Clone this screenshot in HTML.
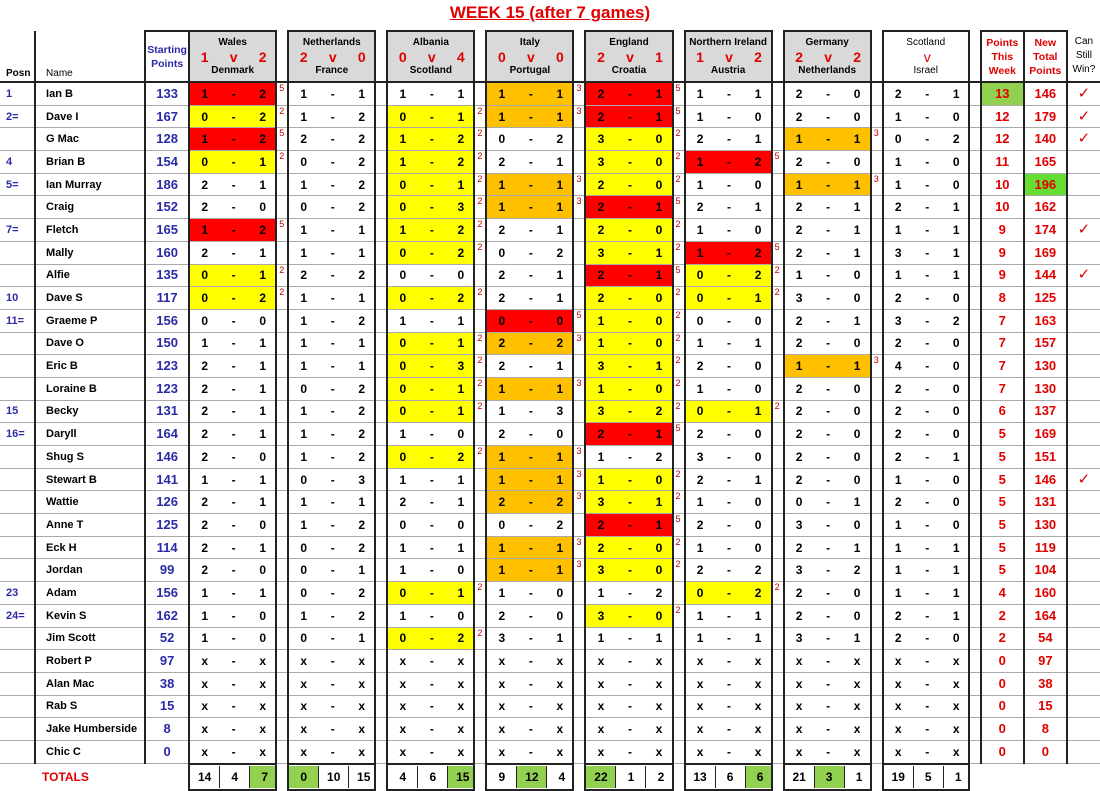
<!DOCTYPE html>
<html><head><meta charset="utf-8"><style>
body{margin:0;background:#fff;width:1100px;height:790px;overflow:hidden;font-family:"Liberation Sans",sans-serif}
h1{position:absolute;left:0;width:1100px;top:3px;margin:0;text-align:center;font-size:17px;color:#e00000;text-decoration:underline;font-weight:bold}
table{position:absolute;left:0;top:30px;border-collapse:collapse;table-layout:fixed;width:1100px}
td{padding:0;height:21.7px;line-height:14px;border-bottom:1px solid #aaa;text-align:center;font-weight:bold;font-size:12px;white-space:nowrap;overflow:hidden}
tr.h td{height:49px;border-bottom:2px solid #222;font-size:10.5px;vertical-align:middle}
.p{color:#2a2aa8;text-align:left;padding-left:6px;font-size:11px}
.n{text-align:left;padding-left:10px;font-size:11px;border-left:2px solid #222;border-right:2px solid #222}
.s{color:#2a2aa8;font-size:13px;border-right:2px solid #222}
.m{border-left:2px solid #222;border-right:2px solid #222}
.m i{display:inline-block;width:29px;font-style:normal}
.g{color:#c00000;font-size:9px;font-weight:normal;vertical-align:top;text-align:left;padding-left:2px;line-height:11px}
.R{background:#ff0000}.Y{background:#ffff00}.O{background:#ffc000}
.t{color:#e00000;font-size:13px;border-left:2px solid #222;border-right:2px solid #222}
.w{color:#e00000;font-size:15px;font-weight:normal}
tr.h .m{background:#d9d9d9;border-top:2px solid #222;line-height:14px;font-size:10px}
tr.h .m span{color:#e00000;font-size:14px;display:block}
tr.h .t{border-top:2px solid #222;font-size:10.5px;line-height:14px}
.G1{background:#92d050}.G2{background:#66dd33}
tr.f td{border-bottom:none;height:24px}
tr.f .m{border:2px solid #222}
tr.f .m i{border-right:1px solid #222;height:22px;line-height:22px}
tr.f .m i:last-child{border-right:none}
</style></head><body>
<h1>WEEK 15 (after 7 games)</h1>
<table>
<colgroup><col style="width:35px"><col style="width:110px"><col style="width:44px">
<col style="width:87px"><col style="width:12px"><col style="width:87px"><col style="width:12px"><col style="width:87px"><col style="width:12px"><col style="width:87px"><col style="width:12px"><col style="width:87px"><col style="width:12px"><col style="width:87px"><col style="width:12px"><col style="width:87px"><col style="width:12px"><col style="width:86px"><col style="width:12px">
<col style="width:43px"><col style="width:43px"><col style="width:33px"></colgroup>
<tr class="h"><td class="p" style="vertical-align:bottom;color:#000;font-size:10px">Posn</td><td class="n" style="vertical-align:bottom;font-size:10px;font-weight:normal;border-right:none">Name</td><td class="s" style="font-size:10.5px;border-left:2px solid #222;border-top:2px solid #222">Starting<br>Points</td>
<td class="m">Wales<span><i>1</i><i>v</i><i>2</i></span>Denmark</td><td class="g"></td>
<td class="m">Netherlands<span><i>2</i><i>v</i><i>0</i></span>France</td><td class="g"></td>
<td class="m">Albania<span><i>0</i><i>v</i><i>4</i></span>Scotland</td><td class="g"></td>
<td class="m">Italy<span><i>0</i><i>v</i><i>0</i></span>Portugal</td><td class="g"></td>
<td class="m">England<span><i>2</i><i>v</i><i>1</i></span>Croatia</td><td class="g"></td>
<td class="m">Northern Ireland<span><i>1</i><i>v</i><i>2</i></span>Austria</td><td class="g"></td>
<td class="m">Germany<span><i>2</i><i>v</i><i>2</i></span>Netherlands</td><td class="g"></td>
<td class="m" style="background:#fff;font-weight:normal">Scotland<span><i></i><i>v</i><i></i></span>Israel</td><td class="g"></td>
<td class="t">Points<br>This<br>Week</td><td class="t">New<br>Total<br>Points</td><td style="font-weight:normal;font-size:10px;line-height:14px">Can<br>Still<br>Win?</td></tr>

<tr><td class="p">1</td><td class="n">Ian B</td><td class="s">133</td><td class="m R"><i>1</i><i>-</i><i>2</i></td><td class="g">5</td><td class="m"><i>1</i><i>-</i><i>1</i></td><td class="g"></td><td class="m"><i>1</i><i>-</i><i>1</i></td><td class="g"></td><td class="m O"><i>1</i><i>-</i><i>1</i></td><td class="g">3</td><td class="m R"><i>2</i><i>-</i><i>1</i></td><td class="g">5</td><td class="m"><i>1</i><i>-</i><i>1</i></td><td class="g"></td><td class="m"><i>2</i><i>-</i><i>0</i></td><td class="g"></td><td class="m"><i>2</i><i>-</i><i>1</i></td><td class="g"></td><td class="t G1">13</td><td class="t">146</td><td class="w">✓</td></tr>
<tr><td class="p">2=</td><td class="n">Dave I</td><td class="s">167</td><td class="m Y"><i>0</i><i>-</i><i>2</i></td><td class="g">2</td><td class="m"><i>1</i><i>-</i><i>2</i></td><td class="g"></td><td class="m Y"><i>0</i><i>-</i><i>1</i></td><td class="g">2</td><td class="m O"><i>1</i><i>-</i><i>1</i></td><td class="g">3</td><td class="m R"><i>2</i><i>-</i><i>1</i></td><td class="g">5</td><td class="m"><i>1</i><i>-</i><i>0</i></td><td class="g"></td><td class="m"><i>2</i><i>-</i><i>0</i></td><td class="g"></td><td class="m"><i>1</i><i>-</i><i>0</i></td><td class="g"></td><td class="t">12</td><td class="t">179</td><td class="w">✓</td></tr>
<tr><td class="p"></td><td class="n">G Mac</td><td class="s">128</td><td class="m R"><i>1</i><i>-</i><i>2</i></td><td class="g">5</td><td class="m"><i>2</i><i>-</i><i>2</i></td><td class="g"></td><td class="m Y"><i>1</i><i>-</i><i>2</i></td><td class="g">2</td><td class="m"><i>0</i><i>-</i><i>2</i></td><td class="g"></td><td class="m Y"><i>3</i><i>-</i><i>0</i></td><td class="g">2</td><td class="m"><i>2</i><i>-</i><i>1</i></td><td class="g"></td><td class="m O"><i>1</i><i>-</i><i>1</i></td><td class="g">3</td><td class="m"><i>0</i><i>-</i><i>2</i></td><td class="g"></td><td class="t">12</td><td class="t">140</td><td class="w">✓</td></tr>
<tr><td class="p">4</td><td class="n">Brian B</td><td class="s">154</td><td class="m Y"><i>0</i><i>-</i><i>1</i></td><td class="g">2</td><td class="m"><i>0</i><i>-</i><i>2</i></td><td class="g"></td><td class="m Y"><i>1</i><i>-</i><i>2</i></td><td class="g">2</td><td class="m"><i>2</i><i>-</i><i>1</i></td><td class="g"></td><td class="m Y"><i>3</i><i>-</i><i>0</i></td><td class="g">2</td><td class="m R"><i>1</i><i>-</i><i>2</i></td><td class="g">5</td><td class="m"><i>2</i><i>-</i><i>0</i></td><td class="g"></td><td class="m"><i>1</i><i>-</i><i>0</i></td><td class="g"></td><td class="t">11</td><td class="t">165</td><td class="w"></td></tr>
<tr><td class="p">5=</td><td class="n">Ian Murray</td><td class="s">186</td><td class="m"><i>2</i><i>-</i><i>1</i></td><td class="g"></td><td class="m"><i>1</i><i>-</i><i>2</i></td><td class="g"></td><td class="m Y"><i>0</i><i>-</i><i>1</i></td><td class="g">2</td><td class="m O"><i>1</i><i>-</i><i>1</i></td><td class="g">3</td><td class="m Y"><i>2</i><i>-</i><i>0</i></td><td class="g">2</td><td class="m"><i>1</i><i>-</i><i>0</i></td><td class="g"></td><td class="m O"><i>1</i><i>-</i><i>1</i></td><td class="g">3</td><td class="m"><i>1</i><i>-</i><i>0</i></td><td class="g"></td><td class="t">10</td><td class="t G2">196</td><td class="w"></td></tr>
<tr><td class="p"></td><td class="n">Craig</td><td class="s">152</td><td class="m"><i>2</i><i>-</i><i>0</i></td><td class="g"></td><td class="m"><i>0</i><i>-</i><i>2</i></td><td class="g"></td><td class="m Y"><i>0</i><i>-</i><i>3</i></td><td class="g">2</td><td class="m O"><i>1</i><i>-</i><i>1</i></td><td class="g">3</td><td class="m R"><i>2</i><i>-</i><i>1</i></td><td class="g">5</td><td class="m"><i>2</i><i>-</i><i>1</i></td><td class="g"></td><td class="m"><i>2</i><i>-</i><i>1</i></td><td class="g"></td><td class="m"><i>2</i><i>-</i><i>1</i></td><td class="g"></td><td class="t">10</td><td class="t">162</td><td class="w"></td></tr>
<tr><td class="p">7=</td><td class="n">Fletch</td><td class="s">165</td><td class="m R"><i>1</i><i>-</i><i>2</i></td><td class="g">5</td><td class="m"><i>1</i><i>-</i><i>1</i></td><td class="g"></td><td class="m Y"><i>1</i><i>-</i><i>2</i></td><td class="g">2</td><td class="m"><i>2</i><i>-</i><i>1</i></td><td class="g"></td><td class="m Y"><i>2</i><i>-</i><i>0</i></td><td class="g">2</td><td class="m"><i>1</i><i>-</i><i>0</i></td><td class="g"></td><td class="m"><i>2</i><i>-</i><i>1</i></td><td class="g"></td><td class="m"><i>1</i><i>-</i><i>1</i></td><td class="g"></td><td class="t">9</td><td class="t">174</td><td class="w">✓</td></tr>
<tr><td class="p"></td><td class="n">Mally</td><td class="s">160</td><td class="m"><i>2</i><i>-</i><i>1</i></td><td class="g"></td><td class="m"><i>1</i><i>-</i><i>1</i></td><td class="g"></td><td class="m Y"><i>0</i><i>-</i><i>2</i></td><td class="g">2</td><td class="m"><i>0</i><i>-</i><i>2</i></td><td class="g"></td><td class="m Y"><i>3</i><i>-</i><i>1</i></td><td class="g">2</td><td class="m R"><i>1</i><i>-</i><i>2</i></td><td class="g">5</td><td class="m"><i>2</i><i>-</i><i>1</i></td><td class="g"></td><td class="m"><i>3</i><i>-</i><i>1</i></td><td class="g"></td><td class="t">9</td><td class="t">169</td><td class="w"></td></tr>
<tr><td class="p"></td><td class="n">Alfie</td><td class="s">135</td><td class="m Y"><i>0</i><i>-</i><i>1</i></td><td class="g">2</td><td class="m"><i>2</i><i>-</i><i>2</i></td><td class="g"></td><td class="m"><i>0</i><i>-</i><i>0</i></td><td class="g"></td><td class="m"><i>2</i><i>-</i><i>1</i></td><td class="g"></td><td class="m R"><i>2</i><i>-</i><i>1</i></td><td class="g">5</td><td class="m Y"><i>0</i><i>-</i><i>2</i></td><td class="g">2</td><td class="m"><i>1</i><i>-</i><i>0</i></td><td class="g"></td><td class="m"><i>1</i><i>-</i><i>1</i></td><td class="g"></td><td class="t">9</td><td class="t">144</td><td class="w">✓</td></tr>
<tr><td class="p">10</td><td class="n">Dave S</td><td class="s">117</td><td class="m Y"><i>0</i><i>-</i><i>2</i></td><td class="g">2</td><td class="m"><i>1</i><i>-</i><i>1</i></td><td class="g"></td><td class="m Y"><i>0</i><i>-</i><i>2</i></td><td class="g">2</td><td class="m"><i>2</i><i>-</i><i>1</i></td><td class="g"></td><td class="m Y"><i>2</i><i>-</i><i>0</i></td><td class="g">2</td><td class="m Y"><i>0</i><i>-</i><i>1</i></td><td class="g">2</td><td class="m"><i>3</i><i>-</i><i>0</i></td><td class="g"></td><td class="m"><i>2</i><i>-</i><i>0</i></td><td class="g"></td><td class="t">8</td><td class="t">125</td><td class="w"></td></tr>
<tr><td class="p">11=</td><td class="n">Graeme P</td><td class="s">156</td><td class="m"><i>0</i><i>-</i><i>0</i></td><td class="g"></td><td class="m"><i>1</i><i>-</i><i>2</i></td><td class="g"></td><td class="m"><i>1</i><i>-</i><i>1</i></td><td class="g"></td><td class="m R"><i>0</i><i>-</i><i>0</i></td><td class="g">5</td><td class="m Y"><i>1</i><i>-</i><i>0</i></td><td class="g">2</td><td class="m"><i>0</i><i>-</i><i>0</i></td><td class="g"></td><td class="m"><i>2</i><i>-</i><i>1</i></td><td class="g"></td><td class="m"><i>3</i><i>-</i><i>2</i></td><td class="g"></td><td class="t">7</td><td class="t">163</td><td class="w"></td></tr>
<tr><td class="p"></td><td class="n">Dave O</td><td class="s">150</td><td class="m"><i>1</i><i>-</i><i>1</i></td><td class="g"></td><td class="m"><i>1</i><i>-</i><i>1</i></td><td class="g"></td><td class="m Y"><i>0</i><i>-</i><i>1</i></td><td class="g">2</td><td class="m O"><i>2</i><i>-</i><i>2</i></td><td class="g">3</td><td class="m Y"><i>1</i><i>-</i><i>0</i></td><td class="g">2</td><td class="m"><i>1</i><i>-</i><i>1</i></td><td class="g"></td><td class="m"><i>2</i><i>-</i><i>0</i></td><td class="g"></td><td class="m"><i>2</i><i>-</i><i>0</i></td><td class="g"></td><td class="t">7</td><td class="t">157</td><td class="w"></td></tr>
<tr><td class="p"></td><td class="n">Eric B</td><td class="s">123</td><td class="m"><i>2</i><i>-</i><i>1</i></td><td class="g"></td><td class="m"><i>1</i><i>-</i><i>1</i></td><td class="g"></td><td class="m Y"><i>0</i><i>-</i><i>3</i></td><td class="g">2</td><td class="m"><i>2</i><i>-</i><i>1</i></td><td class="g"></td><td class="m Y"><i>3</i><i>-</i><i>1</i></td><td class="g">2</td><td class="m"><i>2</i><i>-</i><i>0</i></td><td class="g"></td><td class="m O"><i>1</i><i>-</i><i>1</i></td><td class="g">3</td><td class="m"><i>4</i><i>-</i><i>0</i></td><td class="g"></td><td class="t">7</td><td class="t">130</td><td class="w"></td></tr>
<tr><td class="p"></td><td class="n">Loraine B</td><td class="s">123</td><td class="m"><i>2</i><i>-</i><i>1</i></td><td class="g"></td><td class="m"><i>0</i><i>-</i><i>2</i></td><td class="g"></td><td class="m Y"><i>0</i><i>-</i><i>1</i></td><td class="g">2</td><td class="m O"><i>1</i><i>-</i><i>1</i></td><td class="g">3</td><td class="m Y"><i>1</i><i>-</i><i>0</i></td><td class="g">2</td><td class="m"><i>1</i><i>-</i><i>0</i></td><td class="g"></td><td class="m"><i>2</i><i>-</i><i>0</i></td><td class="g"></td><td class="m"><i>2</i><i>-</i><i>0</i></td><td class="g"></td><td class="t">7</td><td class="t">130</td><td class="w"></td></tr>
<tr><td class="p">15</td><td class="n">Becky</td><td class="s">131</td><td class="m"><i>2</i><i>-</i><i>1</i></td><td class="g"></td><td class="m"><i>1</i><i>-</i><i>2</i></td><td class="g"></td><td class="m Y"><i>0</i><i>-</i><i>1</i></td><td class="g">2</td><td class="m"><i>1</i><i>-</i><i>3</i></td><td class="g"></td><td class="m Y"><i>3</i><i>-</i><i>2</i></td><td class="g">2</td><td class="m Y"><i>0</i><i>-</i><i>1</i></td><td class="g">2</td><td class="m"><i>2</i><i>-</i><i>0</i></td><td class="g"></td><td class="m"><i>2</i><i>-</i><i>0</i></td><td class="g"></td><td class="t">6</td><td class="t">137</td><td class="w"></td></tr>
<tr><td class="p">16=</td><td class="n">Daryll</td><td class="s">164</td><td class="m"><i>2</i><i>-</i><i>1</i></td><td class="g"></td><td class="m"><i>1</i><i>-</i><i>2</i></td><td class="g"></td><td class="m"><i>1</i><i>-</i><i>0</i></td><td class="g"></td><td class="m"><i>2</i><i>-</i><i>0</i></td><td class="g"></td><td class="m R"><i>2</i><i>-</i><i>1</i></td><td class="g">5</td><td class="m"><i>2</i><i>-</i><i>0</i></td><td class="g"></td><td class="m"><i>2</i><i>-</i><i>0</i></td><td class="g"></td><td class="m"><i>2</i><i>-</i><i>0</i></td><td class="g"></td><td class="t">5</td><td class="t">169</td><td class="w"></td></tr>
<tr><td class="p"></td><td class="n">Shug S</td><td class="s">146</td><td class="m"><i>2</i><i>-</i><i>0</i></td><td class="g"></td><td class="m"><i>1</i><i>-</i><i>2</i></td><td class="g"></td><td class="m Y"><i>0</i><i>-</i><i>2</i></td><td class="g">2</td><td class="m O"><i>1</i><i>-</i><i>1</i></td><td class="g">3</td><td class="m"><i>1</i><i>-</i><i>2</i></td><td class="g"></td><td class="m"><i>3</i><i>-</i><i>0</i></td><td class="g"></td><td class="m"><i>2</i><i>-</i><i>0</i></td><td class="g"></td><td class="m"><i>2</i><i>-</i><i>1</i></td><td class="g"></td><td class="t">5</td><td class="t">151</td><td class="w"></td></tr>
<tr><td class="p"></td><td class="n">Stewart B</td><td class="s">141</td><td class="m"><i>1</i><i>-</i><i>1</i></td><td class="g"></td><td class="m"><i>0</i><i>-</i><i>3</i></td><td class="g"></td><td class="m"><i>1</i><i>-</i><i>1</i></td><td class="g"></td><td class="m O"><i>1</i><i>-</i><i>1</i></td><td class="g">3</td><td class="m Y"><i>1</i><i>-</i><i>0</i></td><td class="g">2</td><td class="m"><i>2</i><i>-</i><i>1</i></td><td class="g"></td><td class="m"><i>2</i><i>-</i><i>0</i></td><td class="g"></td><td class="m"><i>1</i><i>-</i><i>0</i></td><td class="g"></td><td class="t">5</td><td class="t">146</td><td class="w">✓</td></tr>
<tr><td class="p"></td><td class="n">Wattie</td><td class="s">126</td><td class="m"><i>2</i><i>-</i><i>1</i></td><td class="g"></td><td class="m"><i>1</i><i>-</i><i>1</i></td><td class="g"></td><td class="m"><i>2</i><i>-</i><i>1</i></td><td class="g"></td><td class="m O"><i>2</i><i>-</i><i>2</i></td><td class="g">3</td><td class="m Y"><i>3</i><i>-</i><i>1</i></td><td class="g">2</td><td class="m"><i>1</i><i>-</i><i>0</i></td><td class="g"></td><td class="m"><i>0</i><i>-</i><i>1</i></td><td class="g"></td><td class="m"><i>2</i><i>-</i><i>0</i></td><td class="g"></td><td class="t">5</td><td class="t">131</td><td class="w"></td></tr>
<tr><td class="p"></td><td class="n">Anne T</td><td class="s">125</td><td class="m"><i>2</i><i>-</i><i>0</i></td><td class="g"></td><td class="m"><i>1</i><i>-</i><i>2</i></td><td class="g"></td><td class="m"><i>0</i><i>-</i><i>0</i></td><td class="g"></td><td class="m"><i>0</i><i>-</i><i>2</i></td><td class="g"></td><td class="m R"><i>2</i><i>-</i><i>1</i></td><td class="g">5</td><td class="m"><i>2</i><i>-</i><i>0</i></td><td class="g"></td><td class="m"><i>3</i><i>-</i><i>0</i></td><td class="g"></td><td class="m"><i>1</i><i>-</i><i>0</i></td><td class="g"></td><td class="t">5</td><td class="t">130</td><td class="w"></td></tr>
<tr><td class="p"></td><td class="n">Eck H</td><td class="s">114</td><td class="m"><i>2</i><i>-</i><i>1</i></td><td class="g"></td><td class="m"><i>0</i><i>-</i><i>2</i></td><td class="g"></td><td class="m"><i>1</i><i>-</i><i>1</i></td><td class="g"></td><td class="m O"><i>1</i><i>-</i><i>1</i></td><td class="g">3</td><td class="m Y"><i>2</i><i>-</i><i>0</i></td><td class="g">2</td><td class="m"><i>1</i><i>-</i><i>0</i></td><td class="g"></td><td class="m"><i>2</i><i>-</i><i>1</i></td><td class="g"></td><td class="m"><i>1</i><i>-</i><i>1</i></td><td class="g"></td><td class="t">5</td><td class="t">119</td><td class="w"></td></tr>
<tr><td class="p"></td><td class="n">Jordan</td><td class="s">99</td><td class="m"><i>2</i><i>-</i><i>0</i></td><td class="g"></td><td class="m"><i>0</i><i>-</i><i>1</i></td><td class="g"></td><td class="m"><i>1</i><i>-</i><i>0</i></td><td class="g"></td><td class="m O"><i>1</i><i>-</i><i>1</i></td><td class="g">3</td><td class="m Y"><i>3</i><i>-</i><i>0</i></td><td class="g">2</td><td class="m"><i>2</i><i>-</i><i>2</i></td><td class="g"></td><td class="m"><i>3</i><i>-</i><i>2</i></td><td class="g"></td><td class="m"><i>1</i><i>-</i><i>1</i></td><td class="g"></td><td class="t">5</td><td class="t">104</td><td class="w"></td></tr>
<tr><td class="p">23</td><td class="n">Adam</td><td class="s">156</td><td class="m"><i>1</i><i>-</i><i>1</i></td><td class="g"></td><td class="m"><i>0</i><i>-</i><i>2</i></td><td class="g"></td><td class="m Y"><i>0</i><i>-</i><i>1</i></td><td class="g">2</td><td class="m"><i>1</i><i>-</i><i>0</i></td><td class="g"></td><td class="m"><i>1</i><i>-</i><i>2</i></td><td class="g"></td><td class="m Y"><i>0</i><i>-</i><i>2</i></td><td class="g">2</td><td class="m"><i>2</i><i>-</i><i>0</i></td><td class="g"></td><td class="m"><i>1</i><i>-</i><i>1</i></td><td class="g"></td><td class="t">4</td><td class="t">160</td><td class="w"></td></tr>
<tr><td class="p">24=</td><td class="n">Kevin S</td><td class="s">162</td><td class="m"><i>1</i><i>-</i><i>0</i></td><td class="g"></td><td class="m"><i>1</i><i>-</i><i>2</i></td><td class="g"></td><td class="m"><i>1</i><i>-</i><i>0</i></td><td class="g"></td><td class="m"><i>2</i><i>-</i><i>0</i></td><td class="g"></td><td class="m Y"><i>3</i><i>-</i><i>0</i></td><td class="g">2</td><td class="m"><i>1</i><i>-</i><i>1</i></td><td class="g"></td><td class="m"><i>2</i><i>-</i><i>0</i></td><td class="g"></td><td class="m"><i>2</i><i>-</i><i>1</i></td><td class="g"></td><td class="t">2</td><td class="t">164</td><td class="w"></td></tr>
<tr><td class="p"></td><td class="n">Jim Scott</td><td class="s">52</td><td class="m"><i>1</i><i>-</i><i>0</i></td><td class="g"></td><td class="m"><i>0</i><i>-</i><i>1</i></td><td class="g"></td><td class="m Y"><i>0</i><i>-</i><i>2</i></td><td class="g">2</td><td class="m"><i>3</i><i>-</i><i>1</i></td><td class="g"></td><td class="m"><i>1</i><i>-</i><i>1</i></td><td class="g"></td><td class="m"><i>1</i><i>-</i><i>1</i></td><td class="g"></td><td class="m"><i>3</i><i>-</i><i>1</i></td><td class="g"></td><td class="m"><i>2</i><i>-</i><i>0</i></td><td class="g"></td><td class="t">2</td><td class="t">54</td><td class="w"></td></tr>
<tr><td class="p"></td><td class="n">Robert P</td><td class="s">97</td><td class="m"><i>x</i><i>-</i><i>x</i></td><td class="g"></td><td class="m"><i>x</i><i>-</i><i>x</i></td><td class="g"></td><td class="m"><i>x</i><i>-</i><i>x</i></td><td class="g"></td><td class="m"><i>x</i><i>-</i><i>x</i></td><td class="g"></td><td class="m"><i>x</i><i>-</i><i>x</i></td><td class="g"></td><td class="m"><i>x</i><i>-</i><i>x</i></td><td class="g"></td><td class="m"><i>x</i><i>-</i><i>x</i></td><td class="g"></td><td class="m"><i>x</i><i>-</i><i>x</i></td><td class="g"></td><td class="t">0</td><td class="t">97</td><td class="w"></td></tr>
<tr><td class="p"></td><td class="n">Alan Mac</td><td class="s">38</td><td class="m"><i>x</i><i>-</i><i>x</i></td><td class="g"></td><td class="m"><i>x</i><i>-</i><i>x</i></td><td class="g"></td><td class="m"><i>x</i><i>-</i><i>x</i></td><td class="g"></td><td class="m"><i>x</i><i>-</i><i>x</i></td><td class="g"></td><td class="m"><i>x</i><i>-</i><i>x</i></td><td class="g"></td><td class="m"><i>x</i><i>-</i><i>x</i></td><td class="g"></td><td class="m"><i>x</i><i>-</i><i>x</i></td><td class="g"></td><td class="m"><i>x</i><i>-</i><i>x</i></td><td class="g"></td><td class="t">0</td><td class="t">38</td><td class="w"></td></tr>
<tr><td class="p"></td><td class="n">Rab S</td><td class="s">15</td><td class="m"><i>x</i><i>-</i><i>x</i></td><td class="g"></td><td class="m"><i>x</i><i>-</i><i>x</i></td><td class="g"></td><td class="m"><i>x</i><i>-</i><i>x</i></td><td class="g"></td><td class="m"><i>x</i><i>-</i><i>x</i></td><td class="g"></td><td class="m"><i>x</i><i>-</i><i>x</i></td><td class="g"></td><td class="m"><i>x</i><i>-</i><i>x</i></td><td class="g"></td><td class="m"><i>x</i><i>-</i><i>x</i></td><td class="g"></td><td class="m"><i>x</i><i>-</i><i>x</i></td><td class="g"></td><td class="t">0</td><td class="t">15</td><td class="w"></td></tr>
<tr><td class="p"></td><td class="n">Jake Humberside</td><td class="s">8</td><td class="m"><i>x</i><i>-</i><i>x</i></td><td class="g"></td><td class="m"><i>x</i><i>-</i><i>x</i></td><td class="g"></td><td class="m"><i>x</i><i>-</i><i>x</i></td><td class="g"></td><td class="m"><i>x</i><i>-</i><i>x</i></td><td class="g"></td><td class="m"><i>x</i><i>-</i><i>x</i></td><td class="g"></td><td class="m"><i>x</i><i>-</i><i>x</i></td><td class="g"></td><td class="m"><i>x</i><i>-</i><i>x</i></td><td class="g"></td><td class="m"><i>x</i><i>-</i><i>x</i></td><td class="g"></td><td class="t">0</td><td class="t">8</td><td class="w"></td></tr>
<tr><td class="p"></td><td class="n">Chic C</td><td class="s">0</td><td class="m"><i>x</i><i>-</i><i>x</i></td><td class="g"></td><td class="m"><i>x</i><i>-</i><i>x</i></td><td class="g"></td><td class="m"><i>x</i><i>-</i><i>x</i></td><td class="g"></td><td class="m"><i>x</i><i>-</i><i>x</i></td><td class="g"></td><td class="m"><i>x</i><i>-</i><i>x</i></td><td class="g"></td><td class="m"><i>x</i><i>-</i><i>x</i></td><td class="g"></td><td class="m"><i>x</i><i>-</i><i>x</i></td><td class="g"></td><td class="m"><i>x</i><i>-</i><i>x</i></td><td class="g"></td><td class="t">0</td><td class="t">0</td><td class="w"></td></tr>
<tr class="f"><td colspan="2" style="color:#e00000;font-size:12px;text-align:left;padding-left:42px">TOTALS</td><td></td>
<td class="m"><i>14</i><i>4</i><i class="G1">7</i></td><td></td>
<td class="m"><i class="G1">0</i><i>10</i><i>15</i></td><td></td>
<td class="m"><i>4</i><i>6</i><i class="G1">15</i></td><td></td>
<td class="m"><i>9</i><i class="G1">12</i><i>4</i></td><td></td>
<td class="m"><i class="G1">22</i><i>1</i><i>2</i></td><td></td>
<td class="m"><i>13</i><i>6</i><i class="G1">6</i></td><td></td>
<td class="m"><i>21</i><i class="G1">3</i><i>1</i></td><td></td>
<td class="m"><i>19</i><i>5</i><i>1</i></td><td></td>
<td></td><td></td><td></td></tr>
</table>
</body></html>
